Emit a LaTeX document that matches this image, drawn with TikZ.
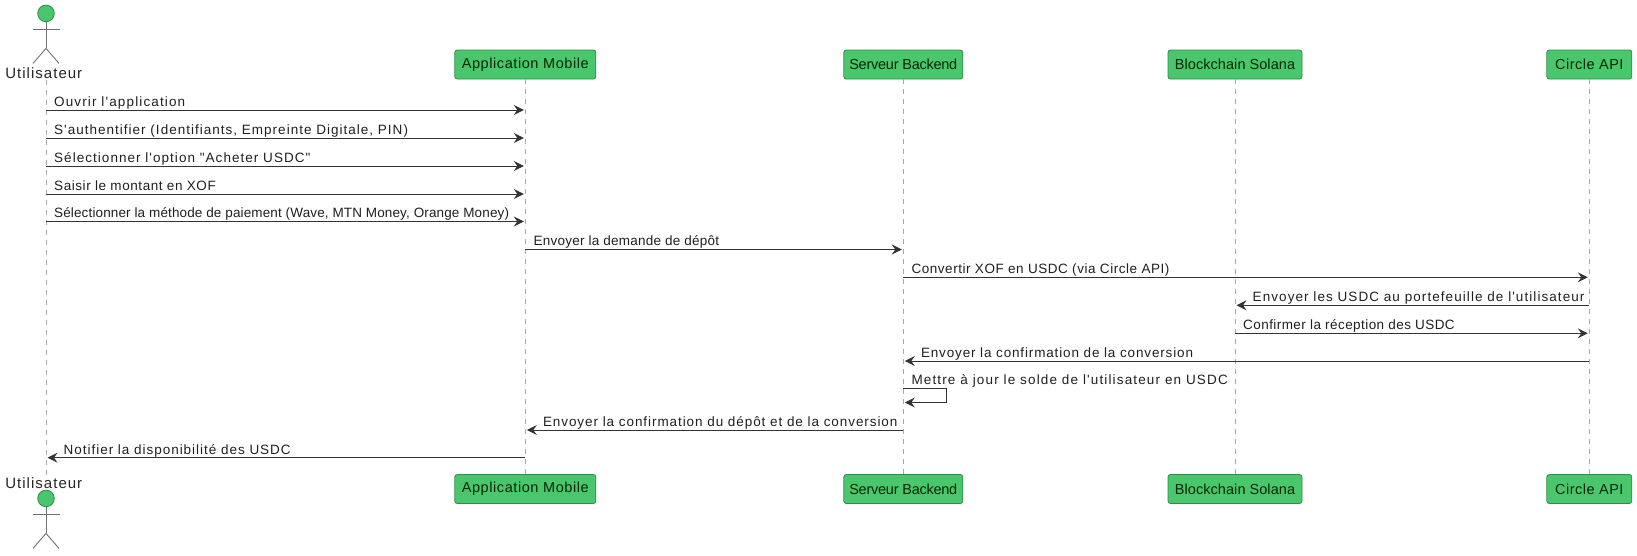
\documentclass[tikz,border=0pt]{standalone}
\usepackage{fontspec}
\setmainfont[Ligatures=TeXOff]{Liberation Sans}
\usetikzlibrary{arrows.meta}
\definecolor{boxgreen}{HTML}{4AC76D}
\definecolor{boxedge}{HTML}{2E8B4A}
\definecolor{linedark}{HTML}{333333}
\definecolor{lifegray}{HTML}{A8A8A8}
\definecolor{actorgray}{HTML}{707070}
\newcommand{\ls}[1]{\addfontfeature{LetterSpace=#1}}
\tikzset{
  part/.style={draw=boxedge,fill=boxgreen,rounded corners=2.5pt,line width=0.8pt,minimum height=29pt,inner xsep=0pt,font=\fontsize{14.5}{16}\selectfont,text=black!85!green},
  actorname/.style={inner sep=0pt,font=\fontsize{15}{17}\selectfont,text=black!85},
  lifeline/.style={draw=lifegray,line width=1pt,dash pattern=on 5pt off 5pt},
  msg/.style={draw=linedark,line width=1pt,-{Stealth[length=10pt,width=10pt,inset=3.5pt]}},
  msglabel/.style={inner sep=0pt,anchor=base west,font=\fontsize{13.5}{15}\selectfont,text=black!88},
  limb/.style={draw=actorgray,line width=0.9pt},
  head/.style={draw=boxedge,fill=boxgreen,line width=0.8pt,circle,inner sep=0pt,minimum size=16.6pt}
}
\newcommand{\actorfig}[2]{% name, head-centre y
  \node[head] (#1) at (46,#2) {};
  \draw[limb] (#1.south) -- (46,#2+35);
  \draw[limb] (32.5,#2+16) -- (59.5,#2+16);
  \draw[limb] (33,#2+50) -- (46,#2+35) -- (59,#2+50);
}
\newcommand{\toright}[5]{% from,to,y,spacing,label
  \draw[msg] (#1 |- 0,#3) -- ([xshift=-1.5pt]#2 |- 0,#3);
  \node[msglabel] at ([xshift=8pt,yshift=3.6pt]#1 |- 0,#3) {\ls{#4}#5};
}
\newcommand{\toleft}[5]{%
  \draw[msg] (#1 |- 0,#3) -- ([xshift=1.5pt]#2 |- 0,#3);
  \node[msglabel] at ([xshift=17.5pt,yshift=3.6pt]#2 |- 0,#3) {\ls{#4}#5};
}
\begin{document}
\begin{tikzpicture}[x=1pt,y=-1pt]
\useasboundingbox (0,0) rectangle (1637,555);
% participants, top
\node[actorname] (userT) at (43.8,73.5) {\ls{6.8}Utilisateur};
\node[part,minimum width=141pt] (appT) at (525.3,64.5) {\ls{4}Application Mobile};
\node[part,minimum width=119pt] (srvT) at (903.3,64.5) {\ls{-1.7}Serveur Backend};
\node[part,minimum width=134pt] (bcT) at (1235,64.5) {\ls{0.4}Blockchain Solana};
\node[part,minimum width=85pt] (cirT) at (1589.3,64.5) {\ls{3.4}Circle API};
% participants, bottom
\node[actorname] (userB) at (43.8,483) {\ls{6.8}Utilisateur};
\node[part,minimum width=141pt] (appB) at (525.3,489) {\ls{4}Application Mobile};
\node[part,minimum width=119pt] (srvB) at (903.3,489) {\ls{-1.7}Serveur Backend};
\node[part,minimum width=134pt] (bcB) at (1235,489) {\ls{0.4}Blockchain Solana};
\node[part,minimum width=85pt] (cirB) at (1589.3,489) {\ls{3.4}Circle API};
% anchors on the user's lifeline
\coordinate (uA) at (46,79.5);
\coordinate (uZ) at (46,475);
% lifelines
\draw[lifeline] (uA) -- (uZ);
\draw[lifeline] (appT.south) -- (appB.north);
\draw[lifeline] (srvT.south) -- (srvB.north);
\draw[lifeline] (bcT.south) -- (bcB.north);
\draw[lifeline] (cirT.south) -- (cirB.north);
% actor figures
\actorfig{headT}{13.4}
\actorfig{headB}{498.4}
% messages
\toright{uA}{appT}{110}{8.4}{Ouvrir l'application}
\toright{uA}{appT}{138}{7.5}{S'authentifier (Identifiants, Empreinte Digitale, PIN)}
\toright{uA}{appT}{166}{7.7}{Sélectionner l'option "Acheter USDC"}
\toright{uA}{appT}{194}{4.2}{Saisir le montant en XOF}
\toright{uA}{appT}{221.5}{1.0}{Sélectionner la méthode de paiement (Wave, MTN Money, Orange Money)}
\toright{appT}{srvT}{249.5}{1.9}{Envoyer la demande de dépôt}
\toright{srvT}{cirT}{277.3}{4.1}{Convertir XOF en USDC (via Circle API)}
\toleft{cirT}{bcT}{305.3}{7.9}{Envoyer les USDC au portefeuille de l'utilisateur}
\toright{bcT}{cirT}{333.3}{3.2}{Confirmer la réception des USDC}
\toleft{cirT}{srvT}{361}{6.3}{Envoyer la confirmation de la conversion}
% self message
\coordinate (selfR) at (946,388.5);
\draw[msg] (srvT |- 0,388.5) -- (selfR) -- (selfR |- 0,402.5) -- ([xshift=1.5pt]srvT |- 0,402.5);
\node[msglabel] at ([xshift=8pt,yshift=3.6pt]srvT |- 0,388.5) {\ls{8.5}Mettre à jour le solde de l'utilisateur en USDC};
\toleft{srvT}{appT}{430}{6.9}{Envoyer la confirmation du dépôt et de la conversion}
\toleft{appT}{uA}{457.7}{7.2}{Notifier la disponibilité des USDC}
\end{tikzpicture}
\end{document}
